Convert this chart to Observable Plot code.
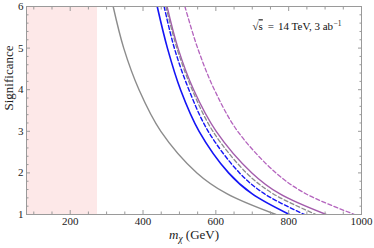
<!DOCTYPE html>
<html><head><meta charset="utf-8">
<script src="https://cdn.jsdelivr.net/npm/d3@7"></script>
<script src="https://cdn.jsdelivr.net/npm/@observablehq/plot@0.6"></script>
<style>body{margin:0;background:#fff} svg{display:block}</style>
</head><body><div id="chart"></div>
<script>
// Significance levels at which each curve's m_chi (GeV) was read
const sigLevels = [6, 5, 4, 3, 2, 1.5, 1];
const graySolidMx   = [318, 347, 389, 449, 548, 630, 765];
const blueSolidMx   = [439, 467, 503, 554, 635, 699, 802];
const blueDashedMx  = [458, 486, 526, 579, 665, 733, 843];
const grayDashedMx  = [463, 493, 535, 592, 684, 757, 875];
const purpleSolidMx = [466, 496, 539, 601, 699, 775, 903];
const purpleDashedMx= [515, 550, 596, 660, 765, 847, 981];

const excludedRegion = [80, 275];
const xDomain = [80, 1000];
const yDomain = [1, 6];
const xMajorTicks = [200, 400, 600, 800, 1000];
const xMinorTicks = [100, 150, 250, 300, 350, 450, 500, 550, 650, 700, 750, 850, 900, 950];
const yMajorTicks = [1, 2, 3, 4, 5, 6];
const yMinorTicks = [1.2, 1.4, 1.6, 1.8, 2.2, 2.4, 2.6, 2.8, 3.2, 3.4, 3.6, 3.8, 4.2, 4.4, 4.6, 4.8, 5.2, 5.4, 5.6, 5.8];
const yLabel = "Significance";
const xLabel = "mχ (GeV)";
const energyLabel = "√s = 14 TeV, 3 ab⁻¹";

const curves = [
  {key: "graySolid", mx: graySolidMx},
  {key: "blueSolid", mx: blueSolidMx},
  {key: "blueDashed", mx: blueDashedMx},
  {key: "purpleSolid", mx: purpleSolidMx},
  {key: "grayDashed", mx: grayDashedMx},
  {key: "purpleDashed", mx: purpleDashedMx}
];
const styles = {
  graySolid:   {stroke: "#8c8c8c", strokeWidth: 1.4},
  blueSolid:   {stroke: "#1414f5", strokeWidth: 1.6},
  blueDashed:  {stroke: "#1414f5", strokeWidth: 1.4, strokeDasharray: "4,2.5"},
  purpleSolid: {stroke: "#a35cac", strokeWidth: 1.4},
  grayDashed:  {stroke: "#8c8c8c", strokeWidth: 1.3, strokeDasharray: "4,2.5"},
  purpleDashed:{stroke: "#b464be", strokeWidth: 1.3, strokeDasharray: "4,2.5"}
};

const lineMarks = curves.map(c => {
  const pts = c.mx.map((m, i) => ({mx: m, sig: sigLevels[i]}));
  return Plot.line(pts, {x: "mx", y: "sig", curve: "catmull-rom", clip: true, ...styles[c.key]});
});

const tickStroke = "#9a9a9a";
const plot = Plot.plot({
  width: 374,
  height: 248,
  marginLeft: 26,
  marginRight: 13,
  marginTop: 6,
  marginBottom: 34,
  style: {fontFamily: "'Liberation Serif', serif", fontSize: "11px", color: "#222", background: "#fff"},
  x: {domain: xDomain},
  y: {domain: yDomain},
  marks: [
    Plot.rect([excludedRegion], {x1: d => d[0], x2: d => d[1], fill: "#fde8e8"}),
    ...lineMarks,
    Plot.frame({stroke: tickStroke}),
    Plot.axisX(xMajorTicks, {anchor: "bottom", tickSize: -4, tickPadding: 7, tickFormat: d => String(d), stroke: tickStroke, fill: "#222", label: null}),
    Plot.axisX(xMinorTicks, {anchor: "bottom", tickSize: -2.5, tickFormat: () => "", stroke: tickStroke, label: null}),
    Plot.axisX(xMajorTicks, {anchor: "top", tickSize: -4, tickFormat: () => "", stroke: tickStroke, label: null}),
    Plot.axisX(xMinorTicks, {anchor: "top", tickSize: -2.5, tickFormat: () => "", stroke: tickStroke, label: null}),
    Plot.axisY(yMajorTicks, {anchor: "left", tickSize: -4, tickPadding: 7, stroke: tickStroke, fill: "#222", label: null}),
    Plot.axisY(yMinorTicks, {anchor: "left", tickSize: -2.5, tickFormat: () => "", stroke: tickStroke, label: null}),
    Plot.axisY(yMajorTicks, {anchor: "right", tickSize: -4, tickFormat: () => "", stroke: tickStroke, label: null}),
    Plot.axisY(yMinorTicks, {anchor: "right", tickSize: -2.5, tickFormat: () => "", stroke: tickStroke, label: null}),
    Plot.text([yLabel], {frameAnchor: "left", rotate: -90, dx: -18, fontSize: 13, fill: "#222"}),
    Plot.text([xLabel], {frameAnchor: "bottom", dy: 24, fontSize: 13, fill: "#222", className: "xlab"}),
    Plot.text([energyLabel], {frameAnchor: "top-left", dx: 226, dy: 16, textAnchor: "start", fontSize: 11, fill: "#111", className: "elab"})
  ]
});
document.getElementById("chart").appendChild(plot);

const ns = "http://www.w3.org/2000/svg";
function tspan(text, attrs) {
  const t = document.createElementNS(ns, "tspan");
  t.textContent = text;
  for (const k in attrs) t.setAttribute(k, attrs[k]);
  return t;
}
// rich text: italic m with subscript chi
const xl = plot.querySelector("g.xlab text");
if (xl) {
  xl.textContent = "";
  xl.append(
    tspan(xLabel.slice(0, 1), {"font-style": "italic"}),
    tspan(xLabel.slice(1, 2), {"font-style": "italic", "font-size": "9.5", "dy": "3"}),
    tspan(xLabel.slice(2), {"dy": "-3"})
  );
}
// sqrt(s) with overline, wide spaces around "=", superscript -1
const el = plot.querySelector("g.elab text");
if (el) {
  el.textContent = "";
  const base = energyLabel.split("⁻¹")[0];           // "√s = 14 TeV, 3 ab"
  const [lhs, rhs] = base.split(" = ");               // "√s", "14 TeV, 3 ab"
  el.append(
    tspan(lhs.slice(0, 1), {}),
    tspan(lhs.slice(1), {"text-decoration": "overline"}),
    tspan("=", {"dx": "5"}),
    tspan(rhs, {"dx": "4"}),
    tspan("−1", {"font-size": "7.5", "dy": "-4", "dx": "0.5"})
  );
}
</script>
</body></html>
